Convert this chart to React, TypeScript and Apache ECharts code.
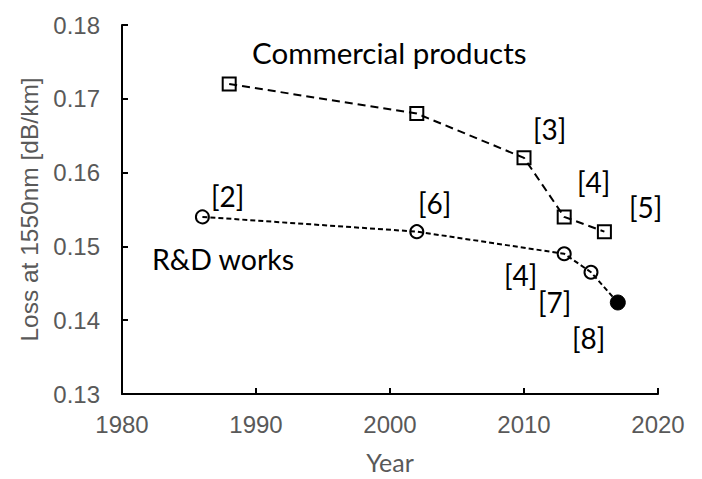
import React, { useEffect, useRef } from "react";
import * as echarts from "echarts";

const commercialYears = [1988, 2002, 2010, 2013, 2016];
const commercialLoss = [0.172, 0.168, 0.162, 0.154, 0.152];
const rdYears = [1986, 2002, 2013, 2015, 2017];
const rdLoss = [0.154, 0.152, 0.149, 0.1465, 0.1424];
const xTicks = [1980, 1990, 2000, 2010, 2020];
const yTicks = [0.13, 0.14, 0.15, 0.16, 0.17, 0.18];
const refLabels = ["[2]", "[6]", "[3]", "[4]", "[5]", "[4]", "[7]", "[8]"];

export default function App() {
  const ref = useRef<HTMLDivElement>(null);
  useEffect(() => {
    if (!ref.current) return;
    const chart = echarts.init(ref.current, null, { renderer: "svg" });
    const sym = { color: "rgba(255,255,255,0)", borderColor: "#000", borderWidth: 2 };
    const annFont = "Lato, 'Open Sans', sans-serif";
    const arial = "'Liberation Sans', Arial, sans-serif";
    const labelPos = [
      [211, 196],
      [418, 203],
      [533, 129],
      [577, 182],
      [629, 207],
      [504, 275],
      [538, 302],
      [572, 338],
    ];
    const txt = (t: string, x: number, y: number, size: number) => ({
      type: "text",
      x,
      y,
      style: { text: t, font: `${size}px ${annFont}`, fill: "#000", align: "left", verticalAlign: "middle" },
    });
    const graphics: any[] = [
      txt("Commercial products", 252, 52, 29.5),
      txt("R&D works", 152, 259, 28.5),
      ...refLabels.map((t, i) => txt(t, labelPos[i][0], labelPos[i][1], 28)),
    ];
    chart.setOption({
      animation: false,
      grid: { left: 122, right: 44, top: 25, bottom: 79 },
      xAxis: {
        type: "value",
        min: xTicks[0],
        max: xTicks[xTicks.length - 1],
        interval: 10,
        name: "Year",
        nameLocation: "middle",
        nameGap: 55,
        nameTextStyle: { fontSize: 25, color: "#595959", fontFamily: annFont },
        axisLine: { lineStyle: { color: "#000", width: 2 } },
        axisTick: { inside: true, length: 6, lineStyle: { color: "#000", width: 2 } },
        axisLabel: {
          fontSize: 24,
          color: "#595959",
          margin: 18,
          fontFamily: arial,
          formatter: (v: number) => String(v),
        },
        splitLine: { show: false },
      },
      yAxis: {
        type: "value",
        min: yTicks[0],
        max: yTicks[yTicks.length - 1],
        interval: 0.01,
        name: "Loss at 1550nm [dB/km]",
        nameLocation: "middle",
        nameRotate: 90,
        nameGap: 80,
        nameTextStyle: { fontSize: 24.5, color: "#595959", fontFamily: arial },
        axisLine: { show: true, lineStyle: { color: "#000", width: 2 } },
        axisTick: { show: true, inside: true, length: 6, lineStyle: { color: "#000", width: 2 } },
        axisLabel: {
          fontSize: 24,
          color: "#595959",
          margin: 22,
          fontFamily: arial,
          formatter: (v: number) => v.toFixed(2),
        },
        splitLine: { show: false },
      },
      series: [
        {
          type: "line",
          data: commercialYears.map((y, i) => [y, commercialLoss[i]]),
          symbol: "rect",
          symbolSize: 13,
          itemStyle: sym,
          lineStyle: { color: "#000", width: 2, type: [8, 5] },
        },
        {
          type: "line",
          data: rdYears.map((y, i) =>
            i === rdYears.length - 1
              ? { value: [y, rdLoss[i]], symbolSize: 15, itemStyle: { color: "#000", borderColor: "#000", borderWidth: 1 } }
              : [y, rdLoss[i]]
          ),
          symbol: "circle",
          symbolSize: 13,
          itemStyle: sym,
          lineStyle: { color: "#000", width: 2, type: [5, 3] },
        },
      ],
      graphic: graphics,
    });
    return () => chart.dispose();
  }, []);
  return (
    <div
      ref={ref}
      style={{ position: "fixed", left: 0, top: 0, width: 702, height: 479, background: "#fff" }}
    />
  );
}
